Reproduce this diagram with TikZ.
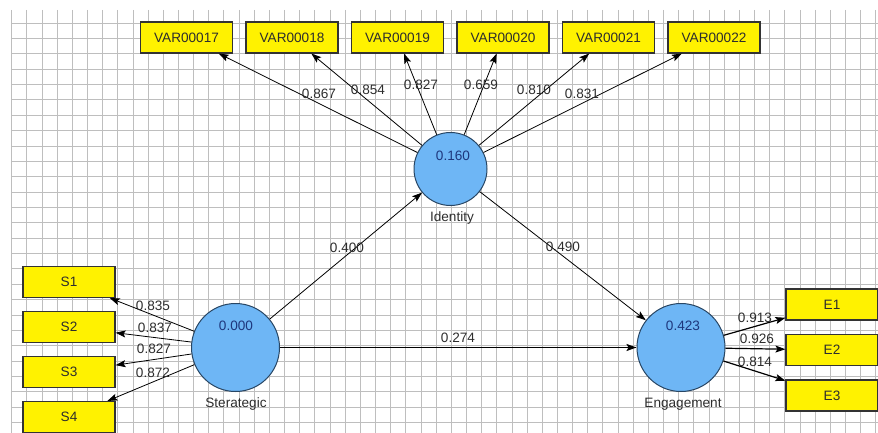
\documentclass[tikz,border=0pt]{standalone}
\usepackage{fontspec}
\setmainfont{Liberation Sans}
\usetikzlibrary{arrows.meta}
\definecolor{lvblue}{RGB}{110,182,245}
\definecolor{lvedge}{RGB}{40,70,100}
\definecolor{valblue}{RGB}{30,55,125}
\definecolor{gridgray}{RGB}{190,190,190}
\definecolor{txtgray}{RGB}{45,45,45}

\begin{document}
\begin{tikzpicture}[x=1pt,y=-1pt,line width=0.8pt,>={Stealth[length=10pt,width=7pt,inset=2pt]},font=\fontsize{13.6}{15}\selectfont,
ind/.style={draw=black!80,fill=yellow,minimum width=92pt,minimum height=31pt,inner sep=0pt,line width=1.1pt,text=txtgray},
lv/.style={circle,draw=lvedge,fill=lvblue,inner sep=0pt,line width=1pt},
val/.style={text=valblue,inner sep=1pt},nm/.style={text=txtgray,inner sep=1pt},lab/.style={text=txtgray,inner sep=1pt}]
\useasboundingbox (0,0) rectangle (878,433);
% grid
\foreach \k in {0,...,57}{\draw[gridgray,line width=0.9pt] (11.7+15.16*\k,10)--(11.7+15.16*\k,433);};
\foreach \k in {0,...,26}{\draw[gridgray,line width=0.9pt] (11.7,23+15.37*\k)--(878,23+15.37*\k);};
% indicators
\foreach \n [count=\i] in {17,...,22}{\node[ind] (v\i) at (186.5+105.5*\i-105.5,37.5) {VAR000\n};};
\foreach \i in {1,...,4}{\node[ind] (s\i) at (69,237+45*\i) {S\i};};
\foreach \i in {1,2,3}{\node[ind] (e\i) at (832,259+45.5*\i) {E\i};};
% latent variables
\node[lv,minimum size=73pt] (id) at (450.5,169) {};
\node[lv,minimum size=88pt] (st) at (235.5,347.5) {};
\node[lv,minimum size=88pt] (en) at (681,347.5) {};
\node[val] (idv) at (453,156) {0.160};
\node[val] (stv) at (236,326) {0.000};
\node[val] (env) at (683,326) {0.423};
\node[nm] (idn) at (452,218) {Identity};
\node[nm] (stn) at (236,404) {Sterategic};
\node[nm] (enn) at (683,404) {Engagement};
% paths
\foreach \i in {1,...,6}{\draw[->] (id) -- (v\i);};
\foreach \i in {1,...,4}{\draw[->] (st) -- (s\i);};
\foreach \i in {1,2,3}{\draw[->,line width=1.2pt] (en) -- (e\i);};
\draw[->] (st) -- (id);
\draw[->] (id) -- (en);
\draw[->,line width=1.6pt] (st) -- (en);
% weights
\foreach \x/\y/\t [count=\i] in {319/94/0.867,368/90/0.854,421/85/0.827,481/85/0.659,534/90/0.810,582/94/0.831,347/248/0.400,563/247/0.490,458/338/0.274,153/306/0.835,155/328/0.837,154/349/0.827,153/373/0.872,755/318/0.913,757/339/0.926,755/362/0.814}{\node[lab] (w\i) at (\x,\y) {\t};};
\end{tikzpicture}
\end{document}
